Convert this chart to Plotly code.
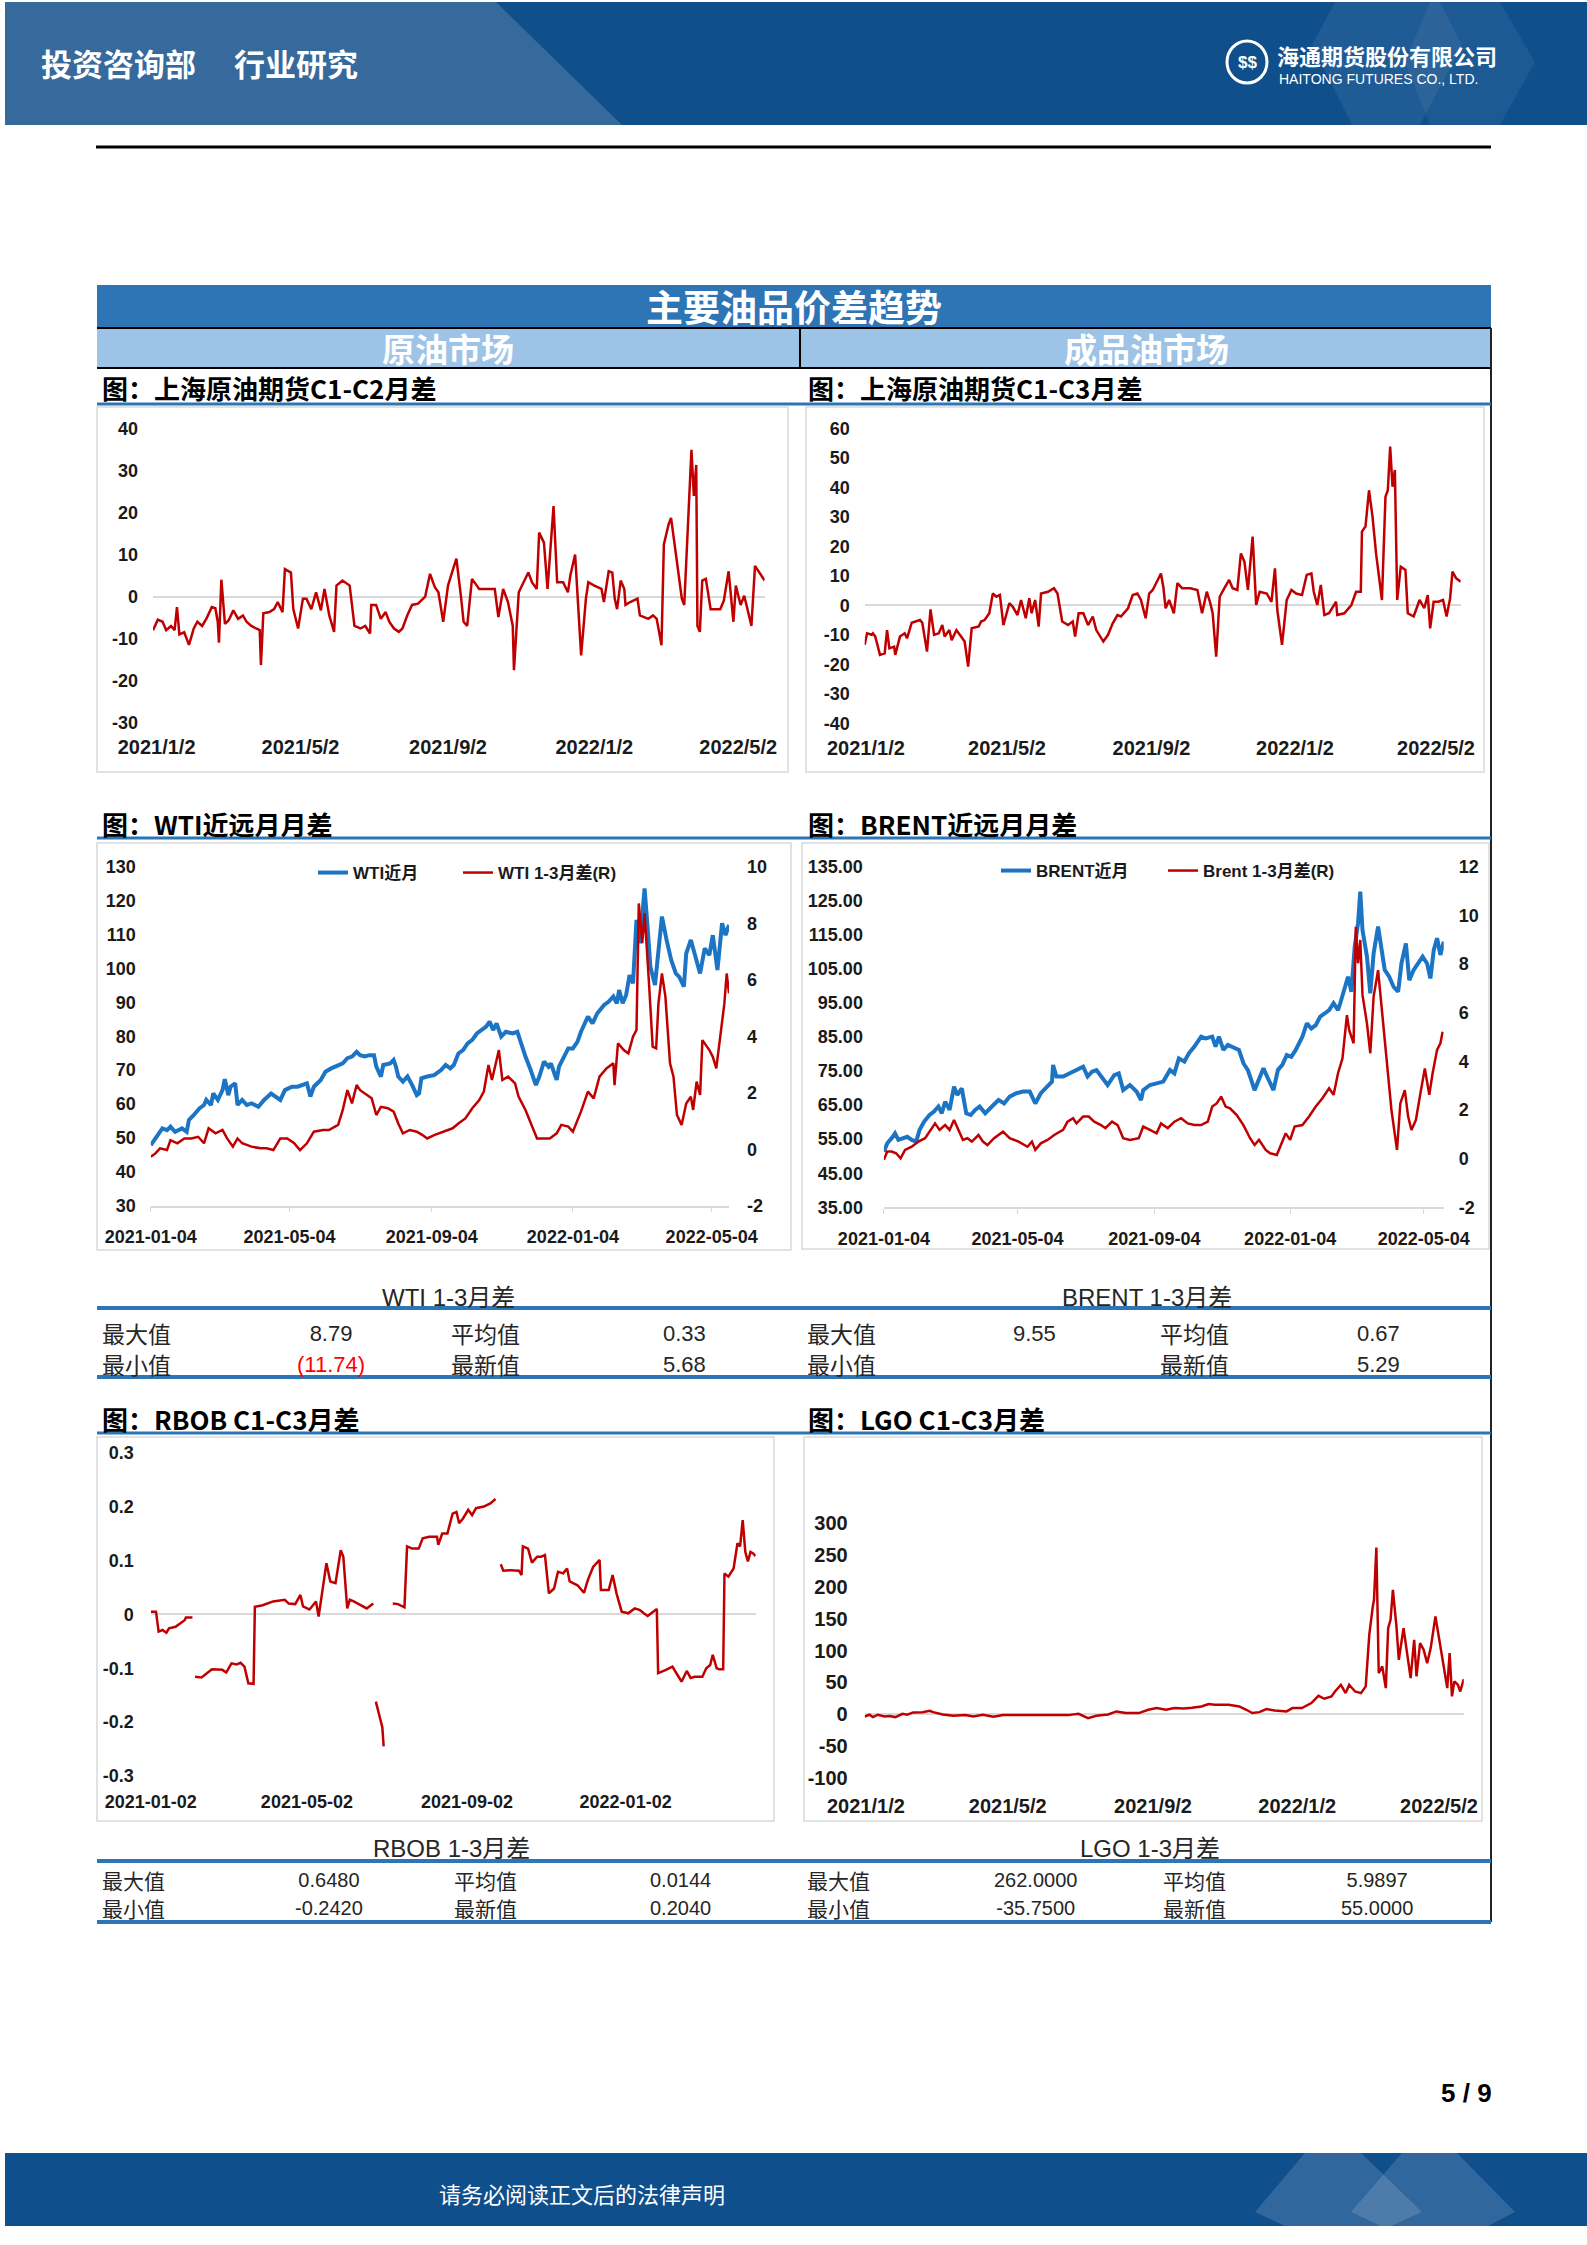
import plotly.graph_objects as go
import pandas as pd

W, H = 1587, 2245

# ---------------- data (day offsets from each chart's base date) ----------------
# 上海原油期货 C1-C2 (base 2021-01-01)
sc12_days = [-2, 2, 6, 9, 13, 16, 18, 20, 24, 28, 32, 35, 39, 43, 47, 50, 52, 53, 55, 58,
             61, 65, 69, 73, 76, 80, 84, 87, 88, 90, 95, 99, 102, 106, 108, 113, 115, 119, 123, 126,
             130, 134, 138, 141, 145, 149, 151, 156, 162, 166, 171, 175, 179, 180, 184, 188, 192, 195, 199, 203,
             206, 210, 214, 219, 225, 229, 233, 236, 240, 244, 247, 251, 255, 257, 260, 264, 270, 277, 283, 286,
             290, 294, 298, 299, 303, 307, 311, 314, 318, 320, 324, 327, 332, 335, 340, 344, 346, 350, 353, 355,
             359, 361, 366, 372, 374, 378, 381, 383, 385, 388, 391, 392, 396, 402, 404, 411, 415, 418, 420, 422,
             424, 428, 430, 432, 435, 439, 441, 445, 447, 449, 451, 452, 454, 456, 459, 463, 471, 474, 478, 482,
             484, 488, 491, 495, 497, 500, 504, 508]
sc12_vals = [-8, -5.5, -6, -8, -7, -8, -2.5, -9, -8.5, -11.5, -7.6, -6, -7, -5, -2.5, -2.8, -6, -11, 4, -6.5,
             -5.7, -3.3, -5.3, -4.5, -6, -7, -7.6, -8, -16.3, -4, -3.7, -3, -1.3, -3.7, 6.5, 5.7, -3, -7.6, -0.5, -0.5,
             -3, 1, -3.3, 1.8, -4.5, -8.4, 2.6, 3.8, 2.6, -7, -7.6, -7, -8.8, -2, -2, -5.3, -3.7, -6, -7.6, -8.4,
             -7.6, -4.5, -2, -1.7, 0, 5.4, 2.2, 1, -6, 2.6, 5.4, 9, -0.5, -6, -7, 4.2, 1.8, 1.8, 1.8, -4.9,
             1.8, -1.3, -7, -17.5, 1, 3.4, 5.7, 3.4, 1.8, 15.2, 12.8, 1.8, 21.5, 3.4, 3.4, 1, 5, 10, -3, -14,
             -0.5, 3.4, 2.6, 1.8, -1.3, 6, 5.7, -0.5, -3, 3.8, 1.8, -2, -1.3, -0.5, -4.5, -5.3, -4.5, -5.3, -8.4, -11.6,
             12.4, 17.2, 18.7, 14.4, 8.9, -0.5, -2, 20.7, 34.9, 23.9, 31.3, -7, -8.4, 3.8, 4.2, -3, -3, -1, 6, -6,
             2.6, -2, 0.2, -4.5, -7, 7.3, 5.7, 3.8]

# 上海原油期货 C1-C3 (base 2021-01-01)
sc13_days = [0, 2, 6, 7, 9, 13, 17, 19, 21, 25, 26, 30, 34, 36, 40, 44, 47, 49, 53, 56,
             59, 63, 66, 68, 72, 74, 78, 82, 85, 88, 91, 97, 99, 102, 106, 109, 112, 115, 118, 120,
             123, 126, 130, 133, 137, 140, 142, 145, 148, 150, 156, 161, 164, 168, 173, 177, 179, 182, 186, 190,
             194, 197, 203, 207, 211, 215, 218, 224, 228, 232, 235, 239, 242, 245, 249, 252, 254, 256, 259, 263,
             266, 270, 277, 283, 287, 291, 294, 296, 299, 302, 306, 310, 313, 317, 320, 323, 326, 330, 333, 336,
             342, 346, 349, 351, 355, 359, 363, 367, 372, 376, 380, 382, 385, 388, 391, 395, 401, 402, 408, 414,
             418, 422, 423, 426, 429, 432, 435, 440, 443, 445, 447, 449, 451, 453, 456, 460, 462, 467, 472, 476,
             479, 481, 484, 488, 492, 495, 498, 500, 503, 507]
sc13_vals = [-13.4, -9.5, -10, -9.5, -10.6, -16.8, -16.3, -8.4, -14.6, -14, -16.8, -10.6, -9.5, -11.2, -5.9, -5.5, -5, -5.9, -15.7, -1.4,
             -10, -9.5, -6.7, -10.6, -8.4, -11.8, -8.4, -10.6, -12.3, -20.8, -7.8, -7.2, -5.5, -5, -2.7, 4, 2.9, 3.5, -6.7, -3.8,
             0.7, -0.5, -3.3, 1.8, -4.4, 2.4, -2.7, 1.8, -7.2, 4, 4.6, 5.8, 4, -5.5, -6.7, -5.5, -10.6, -2.7, -2.7, -6.7,
             -3.8, -8.4, -12.3, -10, -6.1, -3.3, -3.8, -1, 3.5, 4, 1.8, -4.4, 4, 5.2, 8.6, 10.8, 6.3, -1, 1.8, -2.7,
             7.5, 5.8, 5.8, 5.2, -2.7, 4.6, 0.7, -2.7, -17.4, 2.9, 5.8, 8.6, 5.8, 5.2, 17.6, 14.8, 5.2, 23.3, 0.1, 4.6,
             4, 1.2, 12.5, -1.6, -13.4, 1.8, 5.2, 4, 3.5, 10.3, 10.8, 4.6, 0.1, 6.9, -3.3, -2.7, 1.2, -3.3, -2.7, 0.1,
             4.6, 4.6, 25, 26.7, 39, 30, 17.6, 1.8, 36.8, 39, 53.8, 40.2, 45.9, 1.8, 13.1, 12, -2.7, -3.8, 1.8, -1,
             3.5, -7.8, 1.2, 1.2, 1.8, -3.8, 2.4, 11.4, 9.2, 8]

# WTI 近月 (base 2021-01-04)
wti_days = [0, 4, 10, 14, 17, 21, 27, 31, 33, 37, 42, 46, 48, 52, 54, 58, 62, 64, 67, 69,
            73, 75, 79, 83, 87, 93, 98, 104, 108, 112, 116, 122, 127, 131, 135, 138, 141, 147, 151, 156,
            162, 166, 170, 174, 178, 181, 185, 189, 193, 195, 199, 201, 207, 210, 212, 214, 218, 222, 226, 230,
            232, 234, 239, 245, 251, 255, 259, 262, 266, 270, 274, 278, 282, 286, 290, 293, 296, 299, 303, 307,
            313, 317, 320, 324, 328, 331, 333, 336, 340, 344, 346, 349, 351, 353, 357, 361, 365, 369, 372, 378,
            382, 386, 392, 396, 400, 403, 405, 408, 411, 414, 417, 420, 423, 427, 430, 432, 436, 440, 442, 446,
            450, 454, 457, 461, 463, 467, 471, 475, 479, 483, 486, 490, 494, 497, 500]
wti_front = [47.9, 49.9, 52.8, 52.3, 53.3, 51.8, 52.8, 51.8, 55.3, 56.7, 58.7, 59.7, 61.2, 59.7, 63.1, 61.2, 64.1, 67.3, 62.6, 65.1,
             66.1, 59.7, 61.2, 59.7, 60.2, 59.2, 61.2, 63.1, 62.2, 61.2, 64.1, 65.1, 65.1, 65.6, 66.1, 62.2, 65.1, 67.1, 69.5, 70.5,
             71.5, 72.0, 73.5, 74.0, 75.4, 74.4, 74.0, 74.4, 74.4, 71.0, 68.1, 71.5, 72.0, 73.0, 71.0, 68.1, 66.6, 68.1, 65.6, 62.6,
             63.1, 67.6, 68.1, 68.5, 70.0, 71.5, 70.5, 71.5, 74.9, 75.9, 77.9, 78.9, 80.8, 81.8, 82.8, 84.3, 81.8, 83.8, 79.9, 81.3,
             80.8, 81.3, 77.9, 74.0, 70.5, 67.1, 65.6, 68.1, 72.5, 71.0, 72.0, 69.0, 67.1, 71.0, 73.5, 76.4, 76.4, 78.4, 81.3, 85.8,
             83.8, 86.7, 89.2, 90.2, 91.7, 89.7, 93.6, 89.7, 92.1, 98.0, 95.6, 114.3, 107.4, 123.6, 110.3, 100.5, 95.1, 108.4, 115.3, 108.4,
             102.5, 98.5, 97.5, 94.6, 104.4, 108.4, 103.0, 98.5, 105.9, 103.9, 109.8, 99.5, 113.3, 109.8, 112.8]

# WTI 1-3月差 (base 2021-01-04)
wtis_days = [0, 4, 8, 14, 17, 23, 29, 35, 41, 46, 50, 56, 62, 66, 71, 75, 79, 87, 95, 100,
             106, 112, 118, 124, 129, 135, 141, 149, 154, 162, 166, 170, 174, 178, 181, 187, 191, 195, 199, 205,
             210, 214, 218, 224, 230, 235, 239, 245, 253, 261, 266, 272, 278, 284, 288, 292, 295, 298, 301, 304,
             309, 315, 318, 324, 330, 334, 340, 345, 351, 355, 361, 365, 369, 372, 378, 383, 388, 394, 400, 401,
             404, 409, 413, 417, 420, 422, 425, 427, 431, 434, 437, 439, 442, 445, 449, 452, 455, 459, 463, 467,
             469, 472, 475, 477, 483, 486, 489, 492, 496, 498, 500]
wti_spread = [-0.27, -0.15, 0.03, -0.03, 0.32, 0.21, 0.38, 0.38, 0.44, 0.21, 0.74, 0.56, 0.68, 0.38, 0.09, 0.38, 0.21, 0.09, 0.03, 0.03,
              -0.03, 0.38, 0.38, 0.21, -0.03, 0.21, 0.62, 0.68, 0.68, 0.86, 1.39, 2.09, 1.62, 2.27, 2.09, 1.92, 1.80, 1.21, 1.50, 1.45,
              1.33, 0.91, 0.56, 0.68, 0.62, 0.50, 0.38, 0.50, 0.62, 0.74, 0.91, 1.09, 1.45, 1.74, 2.04, 2.98, 2.45, 2.98, 3.51, 2.45,
              2.57, 2.33, 1.86, 1.39, 0.80, 0.38, 0.38, 0.38, 0.56, 0.86, 0.80, 0.62, 1.03, 1.33, 2.04, 1.80, 2.57, 2.86, 3.04, 2.27,
              3.75, 3.51, 3.39, 3.98, 4.22, 8.70, 7.29, 8.35, 5.75, 3.63, 3.57, 5.16, 6.22, 5.40, 3.04, 2.57, 1.21, 0.86, 1.62, 1.86,
              1.39, 2.39, 1.92, 3.86, 3.51, 3.27, 2.86, 3.86, 5.16, 6.22, 5.52]

# BRENT 近月 (base 2021-01-04)
brent_days = [0, 3, 7, 10, 13, 17, 21, 25, 29, 32, 36, 41, 45, 49, 52, 55, 59, 63, 66, 70,
              74, 78, 82, 86, 91, 97, 103, 108, 113, 119, 125, 131, 136, 141, 147, 151, 152, 155, 161, 167,
              173, 179, 183, 187, 191, 197, 201, 207, 211, 215, 221, 227, 231, 233, 239, 245, 251, 257, 261, 265,
              270, 274, 279, 285, 289, 295, 298, 301, 305, 309, 315, 319, 323, 327, 330, 333, 338, 341, 345, 347,
              350, 354, 358, 362, 366, 370, 376, 380, 384, 388, 392, 396, 400, 404, 408, 410, 414, 417, 420, 423,
              426, 428, 430, 434, 437, 440, 444, 447, 450, 454, 458, 462, 465, 469, 472, 476, 480, 484, 488, 491,
              494, 497, 500, 503]
brent_front = [51.3, 53.8, 55.3, 56.7, 54.8, 55.3, 55.7, 54.8, 54.3, 57.7, 60.1, 62.1, 63.1, 64.6, 62.6, 66.0, 63.6, 70.4, 68.0, 69.9,
               62.6, 62.1, 63.6, 64.6, 62.6, 64.6, 66.5, 65.5, 67.5, 68.5, 69.0, 69.0, 65.5, 68.5, 70.4, 71.9, 76.8, 73.4, 73.4, 74.3,
               75.3, 76.3, 73.4, 74.8, 75.3, 72.4, 70.9, 73.8, 74.3, 69.4, 70.9, 69.0, 66.5, 69.4, 70.9, 71.4, 71.9, 75.3, 74.3, 78.7,
               77.8, 80.2, 82.2, 85.1, 84.6, 85.1, 82.2, 85.1, 81.2, 82.7, 81.7, 81.2, 77.3, 75.3, 72.4, 69.4, 73.4, 75.8, 72.9, 71.4,
               69.4, 75.3, 76.8, 79.7, 79.2, 81.2, 85.1, 89.0, 87.5, 88.5, 91.0, 91.9, 92.9, 94.9, 92.9, 94.9, 99.3, 102.7, 98.3, 111.5,
               118.4, 127.7, 116.4, 108.6, 97.8, 109.6, 117.4, 110.5, 104.7, 102.7, 99.7, 98.3, 106.6, 112.5, 101.7, 104.7, 106.6, 108.6, 106.6, 102.2,
               110.5, 114.0, 109.1, 113.0]

# Brent 1-3月差 (base 2021-01-04)
brents_days = [0, 3, 7, 11, 15, 19, 25, 31, 37, 42, 46, 50, 55, 59, 63, 67, 71, 75, 79, 85,
               89, 93, 99, 107, 113, 121, 129, 133, 136, 141, 147, 153, 161, 165, 170, 173, 179, 184, 189, 195,
               199, 205, 210, 215, 221, 229, 233, 239, 245, 249, 255, 261, 267, 273, 279, 285, 291, 295, 299, 303,
               307, 311, 317, 323, 329, 333, 337, 343, 347, 353, 357, 361, 365, 369, 376, 382, 388, 394, 400, 404,
               408, 412, 416, 418, 422, 424, 426, 428, 430, 432, 434, 437, 440, 444, 448, 452, 456, 461, 464, 468,
               471, 474, 478, 482, 486, 490, 493, 497, 500, 502]
brent_spread = [-0.05, 0.29, 0.29, 0.22, 0.01, 0.36, 0.49, 0.70, 0.84, 1.18, 1.45, 1.18, 1.38, 1.18, 1.59, 1.18, 0.77, 0.84, 0.70, 0.97,
                0.70, 0.56, 0.84, 1.11, 0.84, 0.70, 0.49, 0.70, 0.36, 0.63, 0.77, 0.97, 1.18, 1.52, 1.66, 1.45, 1.73, 1.73, 1.52, 1.38,
                1.25, 1.52, 1.38, 0.84, 0.77, 0.84, 1.32, 1.18, 1.04, 1.45, 1.25, 1.52, 1.66, 1.45, 1.38, 1.38, 1.52, 2.14, 2.27, 2.55,
                2.14, 2.07, 1.79, 1.38, 0.84, 0.56, 0.77, 0.36, 0.22, 0.15, 0.63, 1.04, 0.77, 1.32, 1.38, 1.73, 2.14, 2.48, 2.89, 2.62,
                3.51, 4.12, 5.90, 5.29, 4.74, 9.53, 8.03, 8.99, 6.73, 6.11, 5.56, 4.33, 6.66, 7.75, 5.84, 3.64, 2.00, 0.36, 2.27, 2.82,
                1.73, 1.18, 1.59, 2.68, 3.71, 2.62, 3.51, 4.47, 4.74, 5.22]

# RBOB C1-C3 (base 2021-01-02), None = gap in the series
rbob_days = [0, 4, 6, 9, 12, 14, 19, 22, 26, 27, 32, 33,
             34, 39, 47, 55, 58, 62, 66, 69, 72, 75, 79, 80, 86, 94, 103, 106, 111, 115, 117, 122,
             127, 129, 132, 135, 138, 142, 146, 148, 151, 153, 156, 161, 166, 171, 172,
             173, 177, 178, 179, 182,
             186, 190, 195, 197, 201, 206, 209, 214, 220, 221, 224, 228, 232, 235, 237, 240, 244, 247, 250, 256, 261, 265, 267,
             269, 271, 276, 283, 285, 286, 290, 293, 297, 300, 303, 306, 310, 313, 317, 320, 322, 328, 333, 336,
             340, 345, 346, 352, 355, 358, 362, 367, 372, 376, 379, 382, 389, 390, 396, 401, 405, 408, 412, 415,
             418, 424, 427, 430, 432, 435, 437, 440, 441, 444, 448, 451, 453, 455, 457, 459, 461, 463, 465]
rbob_vals = [0.005, 0.005, -0.032, -0.029, -0.034, -0.026, -0.023, -0.018, -0.011, -0.006, -0.006, None,
             -0.116, -0.117, -0.102, -0.103, -0.108, -0.091, -0.093, -0.09, -0.097, -0.128, -0.129, 0.014, 0.017, 0.024, 0.027, 0.02, 0.019, 0.036, 0.015, 0.009,
             0.024, -0.004, 0.045, 0.095, 0.061, 0.058, 0.119, 0.107, 0.011, 0.027, 0.024, 0.017, 0.011, 0.02, None,
             -0.162, -0.199, -0.21, -0.245, None,
             0.02, 0.019, 0.013, 0.126, 0.122, 0.122, 0.141, 0.144, 0.144, 0.129, 0.15, 0.15, 0.187, 0.19, 0.169, 0.178, 0.194, 0.184, 0.197, 0.2, 0.206, 0.214, None,
             0.093, 0.081, 0.082, 0.081, 0.073, 0.126, 0.122, 0.096, 0.107, 0.107, 0.11, 0.039, 0.048, 0.079, 0.076, 0.085, 0.061, 0.054, 0.04, 0.064,
             0.088, 0.101, 0.045, 0.045, 0.073, 0.039, 0.005, 0.002, 0.011, 0.008, 0.002, -0.003, 0.01, -0.109, -0.103, -0.097, -0.113, -0.125, -0.105, -0.118,
             -0.116, -0.116, -0.1, -0.094, -0.075, -0.1, -0.102, -0.102, 0.076, 0.07, 0.085, 0.132, 0.126, 0.175, 0.116, 0.098, 0.116, 0.113, 0.108]

# LGO C1-C3 (base 2021-01-01)
lgo_days = [0, 4, 7, 11, 17, 21, 26, 32, 36, 41, 49, 55, 58, 66, 75, 85, 92, 100, 109, 117,
            134, 153, 172, 181, 189, 196, 206, 213, 221, 232, 240, 247, 255, 262, 270, 277, 285, 291, 296, 308,
            317, 323, 328, 334, 340, 347, 357, 362, 370, 378, 381, 384, 389, 395, 398, 403, 407, 410, 415, 420,
            424, 427, 430, 431, 433, 435, 438, 441, 443, 445, 447, 450, 452, 456, 459, 462, 465, 467, 470, 473,
            476, 479, 483, 486, 490, 493, 495, 497, 499, 502, 504, 507]
lgo_vals = [-3.7, -1, -4.7, -1, -3.7, -3, -4.7, 0.5, -1, 2.6, 3.1, 5.2, 3.1, -0.5, -2.6, -1.6, -3.7, -1, -4.2, -1.6,
            -1.6, -1.6, -1.6, 0.5, -6.3, -2.6, -0.5, 4.2, 1.6, 1.6, 6.8, 9.4, 6.8, 9.4, 8.9, 10, 12, 15.7, 14.7, 14.7,
            12, 6.8, 1.6, 3.1, 7.9, 5.8, 4.2, 9.4, 9.4, 17.3, 22.5, 28.8, 24.1, 27.8, 35.6, 46.1, 33, 46.1, 35.6, 33,
            43.5, 124.7, 169.3, 179.8, 262, 64.5, 74.9, 40.9, 135.2, 148.3, 195.5, 137.8, 85.4, 135.2, 95.9, 56.6, 116.9, 59.2, 111.6, 101.2,
            80.2, 103.8, 153.6, 116.9, 74.9, 40.9, 95.9, 27.8, 51.4, 46.1, 35.6, 55]

# tick labels
sc_tickvals = ['2021-01-02', '2021-05-02', '2021-09-02', '2022-01-02', '2022-05-02']
sc_ticktext = ['2021/1/2', '2021/5/2', '2021/9/2', '2022/1/2', '2022/5/2']
wb_tickvals = ['2021-01-04', '2021-05-04', '2021-09-04', '2022-01-04', '2022-05-04']
rbob_tickvals = ['2021-01-02', '2021-05-02', '2021-09-02', '2022-01-02']

sc12_yticks = [-30, -20, -10, 0, 10, 20, 30, 40]
sc13_yticks = [-40, -30, -20, -10, 0, 10, 20, 30, 40, 50, 60]
wti_yticks = [30, 40, 50, 60, 70, 80, 90, 100, 110, 120, 130]
wti_rticks = [-2, 0, 2, 4, 6, 8, 10]
brent_yticks = [35, 45, 55, 65, 75, 85, 95, 105, 115, 125, 135]
brent_rticks = [-2, 0, 2, 4, 6, 8, 10, 12]
rbob_yticks = [-0.3, -0.2, -0.1, 0, 0.1, 0.2, 0.3]
lgo_yticks = [-100, -50, 0, 50, 100, 150, 200, 250, 300]

# summary tables (two rows x four columns)
wti_table = [['最大值', '8.79', '平均值', '0.33'], ['最小值', '(11.74)', '最新值', '5.68']]
brent_table = [['最大值', '9.55', '平均值', '0.67'], ['最小值', '', '最新值', '5.29']]
rbob_table = [['最大值', '0.6480', '平均值', '0.0144'], ['最小值', '-0.2420', '最新值', '0.2040']]
lgo_table = [['最大值', '262.0000', '平均值', '5.9897'], ['最小值', '-35.7500', '最新值', '55.0000']]

# ---------------- helpers ----------------
RED = '#C00000'
BLUE = '#1C74C4'
CJK = 'Noto Sans CJK SC, sans-serif'
LAT = 'Liberation Sans, Arial, Noto Sans CJK SC, sans-serif'


def tickfont(size):
    return dict(family=LAT, size=size, color='#1a1a1a', weight='bold')


def PX(x):
    return x / W


def PY(y):
    return 1 - y / H


def dates(base, days):
    b = pd.Timestamp(base)
    return [(b + pd.Timedelta(days=d)).strftime('%Y-%m-%d') for d in days]


def fmt(v):
    return '%g' % v


def xaxis(dom, base, rng, tv, tt, anchor, standoff, fsize, line=False):
    return dict(domain=[PX(dom[0]), PX(dom[1])], type='date', range=dates(base, rng),
                tickmode='array', tickvals=tv, ticktext=tt, anchor=anchor, automargin=False,
                showgrid=False, zeroline=False, showline=line, linecolor='#D9D9D9', linewidth=1.5,
                ticks='outside' if line else '', ticklen=5, tickcolor='#D9D9D9',
                tickfont=tickfont(fsize), ticklabelstandoff=standoff, tickangle=0, fixedrange=True)


def yaxis(dom, rng, tv, tt, anchor, standoff, fsize, zero=True, side='left', overlaying=None):
    d = dict(range=rng, tickmode='array', tickvals=tv, ticktext=tt, anchor=anchor, side=side,
             automargin=False,
             showgrid=False, zeroline=zero, zerolinecolor='#D9D9D9', zerolinewidth=1.5,
             showline=False, ticks='', tickfont=tickfont(fsize), ticklabelstandoff=standoff, fixedrange=True)
    if overlaying:
        d['overlaying'] = overlaying
    else:
        d['domain'] = [PY(dom[1]), PY(dom[0])]
    return d


shapes = []
annots = []


def rect(x0, y0, x1, y1, fill=None, line=None, lw=0, layer='below'):
    shapes.append(dict(type='rect', xref='paper', yref='paper', x0=PX(x0), x1=PX(x1), y0=PY(y1), y1=PY(y0),
                       fillcolor=fill or 'rgba(0,0,0,0)',
                       line=dict(color=line or 'rgba(0,0,0,0)', width=lw), layer=layer))


def seg(x0, y0, x1, y1, color, w, layer='above'):
    shapes.append(dict(type='line', xref='paper', yref='paper', x0=PX(x0), x1=PX(x1), y0=PY(y0), y1=PY(y1),
                       line=dict(color=color, width=w), layer=layer))


def poly(points, fill, layer='below'):
    path = 'M ' + ' L '.join('%.5f,%.5f' % (PX(x), PY(y)) for x, y in points) + ' Z'
    shapes.append(dict(type='path', xref='paper', yref='paper', path=path, fillcolor=fill,
                       line=dict(width=0), layer=layer))


def text(x, y, s, size, color='#000000', bold=False, anchor='left', family=CJK):
    annots.append(dict(xref='paper', yref='paper', x=PX(x), y=PY(y), text=s, showarrow=False,
                       xanchor=anchor, yanchor='middle', borderpad=0,
                       font=dict(size=size, color=color, family=family, weight='bold' if bold else 'normal')))


# ---------------- traces ----------------
fig = go.Figure()
fig.add_trace(go.Scatter(x=dates('2021-01-01', sc12_days), y=sc12_vals, mode='lines',
                         line=dict(color=RED, width=2.5), xaxis='x', yaxis='y', showlegend=False,
                         name='上海原油期货C1-C2月差'))
fig.add_trace(go.Scatter(x=dates('2021-01-01', sc13_days), y=sc13_vals, mode='lines',
                         line=dict(color=RED, width=2.5), xaxis='x2', yaxis='y2', showlegend=False,
                         name='上海原油期货C1-C3月差'))
fig.add_trace(go.Scatter(x=dates('2021-01-04', wti_days), y=wti_front, mode='lines',
                         line=dict(color=BLUE, width=4), xaxis='x3', yaxis='y3', name='WTI近月',
                         legend='legend'))
fig.add_trace(go.Scatter(x=dates('2021-01-04', wtis_days), y=wti_spread, mode='lines',
                         line=dict(color=RED, width=2.5), xaxis='x3', yaxis='y7', name='WTI 1-3月差(R)',
                         legend='legend2'))
fig.add_trace(go.Scatter(x=dates('2021-01-04', brent_days), y=brent_front, mode='lines',
                         line=dict(color=BLUE, width=4), xaxis='x4', yaxis='y4', name='BRENT近月',
                         legend='legend3'))
fig.add_trace(go.Scatter(x=dates('2021-01-04', brents_days), y=brent_spread, mode='lines',
                         line=dict(color=RED, width=2.5), xaxis='x4', yaxis='y8', name='Brent 1-3月差(R)',
                         legend='legend4'))
fig.add_trace(go.Scatter(x=dates('2021-01-02', rbob_days), y=rbob_vals, mode='lines',
                         line=dict(color=RED, width=2.5), xaxis='x5', yaxis='y5', showlegend=False,
                         connectgaps=False, name='RBOB C1-C3月差'))
fig.add_trace(go.Scatter(x=dates('2021-01-01', lgo_days), y=lgo_vals, mode='lines',
                         line=dict(color=RED, width=2.5), xaxis='x6', yaxis='y6', showlegend=False,
                         name='LGO C1-C3月差'))

# ---------------- axes ----------------
E = 1e-6
layout_axes = dict(
    xaxis=xaxis([153, 764.6], '2021-01-01', [-2, 508], sc_tickvals, sc_ticktext, 'y', 10, 20),
    yaxis=yaxis([428.3, 722.7], [-30 - E, 40 + E], sc12_yticks, [fmt(v) for v in sc12_yticks], 'x', 14, 18),
    xaxis2=xaxis([864.7, 1460.7], '2021-01-01', [0, 507], sc_tickvals, sc_ticktext, 'y2', 11, 20),
    yaxis2=yaxis([428.3, 723.3], [-40 - E, 60 + E], sc13_yticks, [fmt(v) for v in sc13_yticks], 'x2', 14, 18),
    xaxis3=xaxis([150.8, 729], '2021-01-04', [0, 500], wb_tickvals, wb_tickvals, 'y3', 9, 18, line=True),
    yaxis3=yaxis([866.7, 1205.7], [30 - E, 130 + E], wti_yticks, [fmt(v) for v in wti_yticks], 'x3', 14, 18, zero=False),
    yaxis7=yaxis(None, [-2 - E, 10 + E], wti_rticks, [fmt(v) for v in wti_rticks], 'x3', 17, 18, zero=False,
                 side='right', overlaying='y3'),
    xaxis4=xaxis([883.9, 1443.75], '2021-01-04', [0, 503], wb_tickvals, wb_tickvals, 'y4', 9, 18, line=True),
    yaxis4=yaxis([866.7, 1207.3], [35 - E, 135 + E], brent_yticks, ['%.2f' % v for v in brent_yticks], 'x4', 20, 18, zero=False),
    yaxis8=yaxis(None, [-2 - E, 12 + E], brent_rticks, [fmt(v) for v in brent_rticks], 'x4', 14, 18, zero=False,
                 side='right', overlaying='y4'),
    xaxis5=xaxis([150.8, 755.7], '2021-01-02', [0, 465], rbob_tickvals, rbob_tickvals, 'y5', 13, 18),
    yaxis5=yaxis([1452.7, 1776], [-0.3 - E, 0.3 + E], rbob_yticks, [fmt(v) for v in rbob_yticks], 'x5', 16, 18),
    xaxis6=xaxis([864.7, 1463.8], '2021-01-01', [0, 507], sc_tickvals, sc_ticktext, 'y6', 14, 20),
    yaxis6=yaxis([1523.3, 1777.7], [-100 - E, 300 + E], lgo_yticks, [fmt(v) for v in lgo_yticks], 'x6', 16, 20),
)

# ---------------- page decoration ----------------
DARK = '#0F4F8C'
# header band
rect(5, 2, 1587, 125, fill=DARK)
poly([(5, 2), (496, 2), (622, 125), (5, 125)], '#36699C')
poly([(1335, 2), (1440, 2), (1462, 45), (1420, 125), (1352, 125), (1312, 45)], 'rgba(255,255,255,0.07)')
poly([(1430, 2), (1500, 2), (1535, 62), (1500, 125), (1430, 125), (1405, 62)], 'rgba(255,255,255,0.06)')
text(40, 62, '投资咨询部', 31, '#FFFFFF', True)
text(233, 62, '行业研究', 31, '#FFFFFF', True)
# logo
shapes.append(dict(type='circle', xref='paper', yref='paper', x0=PX(1227), x1=PX(1267), y0=PY(83), y1=PY(41),
                   line=dict(color='#FFFFFF', width=3), fillcolor='rgba(0,0,0,0)', layer='above'))
text(1247, 62, '$$', 17, '#FFFFFF', True, 'center', LAT)
text(1276, 55, '海通期货股份有限公司', 22, '#FFFFFF', True)
text(1278, 79, 'HAITONG FUTURES CO., LTD.', 14, '#FFFFFF', False, 'left', LAT)
seg(96, 147, 1491, 147, '#000000', 3)

# section title bars
rect(97, 285, 1491, 328, fill='#2E75B6')
rect(97, 328, 1491, 368, fill='#9DC3E6')
seg(97, 328, 1491, 328, '#000000', 2)
seg(97, 368, 1491, 368, '#000000', 2)
seg(800, 328, 800, 368, '#000000', 2)
seg(1491, 328, 1491, 1922, '#222222', 2)
text(794, 306, '主要油品价差趋势', 37, '#FFFFFF', True, 'center')
text(448, 348, '原油市场', 33, '#FFFFFF', True, 'center')
text(1146, 348, '成品油市场', 33, '#FFFFFF', True, 'center')

# chart titles and separators
SEP = '#2E75B6'
text(101, 388, '图：上海原油期货C1-C2月差', 26, '#000000', True)
text(807, 388, '图：上海原油期货C1-C3月差', 26, '#000000', True)
seg(97, 404, 1491, 404, SEP, 3)
text(101, 823, '图：WTI近远月月差', 26, '#000000', True)
text(807, 823, '图：BRENT近远月月差', 26, '#000000', True)
seg(97, 838, 1491, 838, SEP, 3)
text(101, 1418, '图：RBOB C1-C3月差', 26, '#000000', True)
text(807, 1418, '图：LGO C1-C3月差', 26, '#000000', True)
seg(97, 1433, 1491, 1433, SEP, 3)

# chart frames
FR = '#D9D9D9'
rect(97, 407, 788, 772, line=FR, lw=1.5)
rect(806, 407, 1484, 772, line=FR, lw=1.5)
rect(97, 843, 791, 1250, line=FR, lw=1.5)
rect(802, 843, 1489, 1249, line=FR, lw=1.5)
rect(97, 1437, 774, 1821, line=FR, lw=1.5)
rect(804, 1437, 1482, 1821, line=FR, lw=1.5)


# summary tables: each column is one two-line text; line pitch = 1.3 x base font size
def table(rows, xs, anchors, y1, y2, glyph, red_cells=()):
    base = (y2 - y1) / 1.3
    yc = (y1 + y2) / 2
    for j in range(4):
        fam = CJK if j in (0, 2) else LAT
        gsz = glyph if j in (0, 2) else glyph - 1
        cells = []
        for r in range(2):
            col = '#FF0000' if (r, j) in red_cells else '#262626'
            cells.append('<span style="font-size:%dpx;color:%s">%s</span>' % (gsz, col, rows[r][j]))
        if rows[1][j] == '':
            text(xs[j], y1, cells[0], gsz, '#262626', False, anchors[j], fam)
        else:
            annots.append(dict(xref='paper', yref='paper', x=PX(xs[j]), y=PY(yc), text='<br>'.join(cells),
                               showarrow=False, xanchor=anchors[j], yanchor='middle', borderpad=0,
                               align='left' if anchors[j] == 'left' else 'center',
                               font=dict(size=base, color='#262626', family=fam)))


text(448, 1297, 'WTI 1-3月差', 24, '#262626', False, 'center', LAT)
text(1147, 1297, 'BRENT 1-3月差', 24, '#262626', False, 'center', LAT)
seg(97, 1308, 1491, 1308, SEP, 4)
seg(97, 1377, 1491, 1377, SEP, 4)
table(wti_table, [101, 331, 485, 684], ['left', 'center', 'center', 'center'], 1333, 1364, 23, red_cells=[(1, 1)])
table(brent_table, [806, 1034, 1194, 1378], ['left', 'center', 'center', 'center'], 1333, 1364, 23)

text(452, 1848, 'RBOB 1-3月差', 24, '#262626', False, 'center', LAT)
text(1150, 1848, 'LGO 1-3月差', 24, '#262626', False, 'center', LAT)
seg(97, 1861, 1491, 1861, SEP, 4)
seg(97, 1922, 1491, 1922, SEP, 4)
table(rbob_table, [101, 329, 485, 680], ['left', 'center', 'center', 'center'], 1880, 1908, 21)
table(lgo_table, [806, 1035, 1194, 1377], ['left', 'center', 'center', 'center'], 1880, 1908, 21)

# page number & footer
text(1493, 2093, '5 / 9', 26, '#000000', True, 'right', LAT)
rect(5, 2153, 1587, 2226, fill=DARK)
poly([(1305, 2153), (1361, 2153), (1422, 2212), (1391, 2226), (1285, 2226), (1255, 2212)], 'rgba(255,255,255,0.14)')
poly([(1402, 2153), (1457, 2153), (1515, 2212), (1488, 2226), (1381, 2226), (1351, 2212)], 'rgba(255,255,255,0.14)')
text(582, 2193, '请务必阅读正文后的法律声明', 22, '#FFFFFF', False, 'center')

LEGFONT = dict(family=LAT, size=17, color='#1a1a1a', weight='bold')


def legend_at(x, y):
    return dict(orientation='h', x=PX(x), y=PY(y), xanchor='left', yanchor='middle',
                bgcolor='rgba(0,0,0,0)', font=LEGFONT)


fig.update_layout(
    width=W, height=H, margin=dict(l=0, r=0, t=0, b=0, pad=0, autoexpand=False),
    paper_bgcolor='#FFFFFF', plot_bgcolor='rgba(0,0,0,0)',
    showlegend=True,
    legend=legend_at(313, 873),
    legend2=legend_at(458, 873),
    legend3=legend_at(996, 871),
    legend4=legend_at(1163, 871),
    shapes=shapes, annotations=annots,
    **layout_axes,
)

fig.write_html("out.html", include_plotlyjs=True, full_html=True,
               config={'displayModeBar': False},
               post_script="document.body.style.margin='0';document.body.style.overflow='hidden';")
